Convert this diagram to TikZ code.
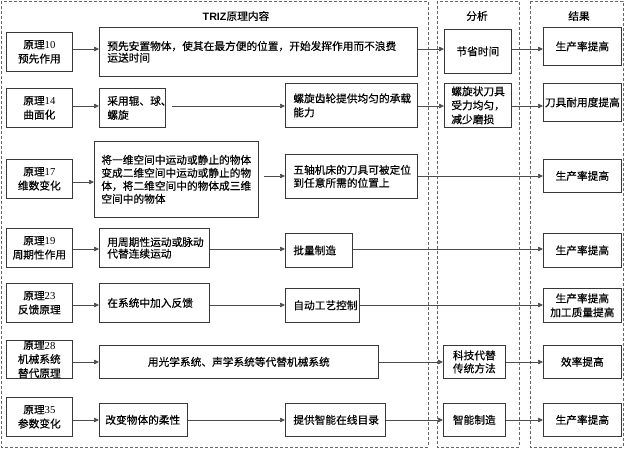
\documentclass[tikz,border=0pt]{standalone}
\usepackage{fontspec}
\setmainfont{Liberation Serif}
\newfontfamily\cjk[FakeBold=0.4]{Noto Sans CJK SC}
\newfontfamily\lat{Liberation Serif}
\newfontfamily\hel{Liberation Sans}
\usetikzlibrary{arrows.meta}
\tikzset{
  bx/.style={draw=black!78, line width=0.7pt, anchor=north west, inner sep=0pt,
    align=center, text=black, font=\cjk\fontsize{10.7}{14}\selectfont},
  lft/.style={align=left, inner xsep=8pt},
  tight/.style={font=\cjk\fontsize{10.7}{11.6}\selectfont},
  mid/.style={font=\cjk\fontsize{10.7}{13}\selectfont},
  txt/.style={inner sep=0pt, align=center, text=black, font=\cjk\fontsize{10.7}{14}\selectfont},
  arr/.style={draw=black!70, line width=0.7pt, -{Triangle[length=5pt,width=4.5pt]}},
  frm/.style={draw=black!60, line width=0.7pt, dash pattern=on 3pt off 2pt},
  hd/.style={inner sep=0pt, text=black, font=\cjk\fontsize{10.7}{14}\selectfont}
}
\begin{document}
\begin{tikzpicture}[x=1pt,y=-1pt]
\useasboundingbox (0,0) rectangle (630,450);
% frames
\draw[frm] (1,1) rectangle (428,447);
\draw[frm] (437,1) rectangle (519,447);
\draw[frm] (530,1) rectangle (623,447);
% headers
\node[hd] (h1) at (236,16) {{\hel\bfseries TRIZ}原理内容};
\node[hd] (h2) at (477,16) {分析};
\node[hd] (h3) at (579,16) {结果};
% left column
\node[bx, minimum width=66pt, minimum height=39pt] (p10) at (6,32) {原理{\lat 10}\\预先作用};
\node[bx, minimum width=66pt, minimum height=39pt] (p14) at (6,88) {原理{\lat 14}\\曲面化};
\node[bx, minimum width=66pt, minimum height=39pt] (p17) at (6,159) {原理{\lat 17}\\维数变化};
\node[bx, minimum width=66pt, minimum height=39pt] (p19) at (6,228) {原理{\lat 19}\\周期性作用};
\node[bx, minimum width=66pt, minimum height=39pt] (p23) at (6,283) {原理{\lat 23}\\反馈原理};
\node[bx, minimum width=66pt, minimum height=38pt] (p28) at (6,340) {};
\node[txt] (p28t) at (p28.center) {原理{\lat 28}\\机械系统\\替代原理};
\node[bx, minimum width=66pt, minimum height=39pt] (p35) at (6,397) {原理{\lat 35}\\参数变化};
% second column
\node[bx, lft, tight, text width=302pt, minimum height=49pt] (t10) at (99,27) {预先安置物体，使其在最方便的位置，开始发挥作用而不浪费\\运送时间};
\node[bx, lft, text width=50pt, minimum height=39pt] (t14) at (99,88) {采用辊、球、\\螺旋};
\node[bx, lft, mid, inner xsep=7pt, text width=150pt, minimum height=76pt] (t17) at (94,141) {将一维空间中运动或静止的物体\\变成二维空间中运动或静止的物\\体，将二维空间中的物体成三维\\空间中的物体};
\node[bx, lft, tight, text width=94pt, minimum height=39pt] (t19) at (99,228) {用周期性运动或脉动\\代替连续运动};
\node[bx, lft, text width=94pt, minimum height=39pt] (t23) at (99,283) {在系统中加入反馈};
\node[bx, minimum width=279pt, minimum height=33pt] (t28) at (99,345) {用光学系统、声学系统等代替机械系统};
\node[bx, lft, inner xsep=6pt, text width=76pt, minimum height=33pt] (t35) at (99,403) {改变物体的柔性};
% third column
\node[bx, lft, text width=116pt, minimum height=44pt] (u14) at (285,83) {螺旋齿轮提供均匀的承载\\能力};
\node[bx, lft, mid, text width=116pt, minimum height=44pt] (u17) at (285,154) {五轴机床的刀具可被定位\\到任意所需的位置上};
\node[bx, lft, text width=51pt, minimum height=34pt] (u19) at (285,233) {批量制造};
\node[bx, lft, text width=58pt, minimum height=34pt] (u23) at (285,288) {自动工艺控制};
\node[bx, lft, text width=84pt, minimum height=33pt] (u35) at (285,403) {提供智能在线目录};
% analysis column
\node[bx, minimum width=67pt, minimum height=44pt] (a10) at (444,29) {节省时间};
\node[bx, lft, inner xsep=7pt, text width=53pt, minimum height=44pt] (a14) at (444,83) {螺旋状刀具\\受力均匀，\\减少磨损};
\node[bx, mid, minimum width=62pt, minimum height=33pt] (a28) at (443,345) {科技代替\\传统方法};
\node[bx, minimum width=62pt, minimum height=33pt] (a35) at (443,403) {智能制造};
% result column
\node[bx, minimum width=78pt, minimum height=38pt] (r10) at (543,27) {生产率提高};
\node[bx, minimum width=78pt, minimum height=38pt] (r14) at (543,83) {刀具耐用度提高};
\node[bx, minimum width=78pt, minimum height=33pt] (r17) at (543,159) {生产率提高};
\node[bx, minimum width=78pt, minimum height=34pt] (r19) at (543,233) {生产率提高};
\node[bx, minimum width=78pt, minimum height=34pt] (r23) at (543,288) {生产率提高\\加工质量提高};
\node[bx, minimum width=78pt, minimum height=33pt] (r28) at (543,345) {效率提高};
\node[bx, minimum width=78pt, minimum height=33pt] (r35) at (543,403) {生产率提高};
% row levels
\coordinate (y1) at (0,49);
\coordinate (y2) at (0,106);
\coordinate (y3a) at (0,182);
\coordinate (y3) at (0,176);
\coordinate (y4) at (0,249);
\coordinate (y5) at (0,305);
\coordinate (y6) at (0,362);
\coordinate (y7) at (0,420);
% connectors
\draw[arr] (p10.east |- y1) -- (t10.west |- y1);
\draw[arr] (t10.east |- y1) -- (a10.west |- y1);
\draw[arr] (a10.east |- y1) -- (r10.west |- y1);
\draw[arr] (p14.east |- y2) -- (t14.west |- y2);
\draw[arr] ([xshift=6pt]t14.east |- y2) -- (u14.west |- y2);
\draw[arr] (u14.east |- y2) -- (a14.west |- y2);
\draw[arr] (a14.east |- y2) -- (r14.west |- y2);
\draw[arr] (p17.east |- y3a) -- (t17.west |- y3a);
\draw[arr, shorten <=5pt] (t17.east |- y3) -- (u17.west |- y3);
\draw[arr] (u17.east |- y3) -- (r17.west |- y3);
\draw[arr] (p19.east |- y4) -- (t19.west |- y4);
\draw[arr] (t19.east |- y4) -- (u19.west |- y4);
\draw[arr] (u19.east |- y4) -- (r19.west |- y4);
\draw[arr] (p23.east |- y5) -- (t23.west |- y5);
\draw[arr] (t23.east |- y5) -- (u23.west |- y5);
\draw[arr] (u23.east |- y5) -- (r23.west |- y5);
\draw[arr] (p28.east |- y6) -- (t28.west |- y6);
\draw[arr] (t28.east |- y6) -- (a28.west |- y6);
\draw[arr] (a28.east |- y6) -- (r28.west |- y6);
\draw[arr] (p35.east |- y7) -- (t35.west |- y7);
\draw[arr] (t35.east |- y7) -- (u35.west |- y7);
\draw[arr] (u35.east |- y7) -- (a35.west |- y7);
\draw[arr] (a35.east |- y7) -- (r35.west |- y7);
\end{tikzpicture}
\end{document}
